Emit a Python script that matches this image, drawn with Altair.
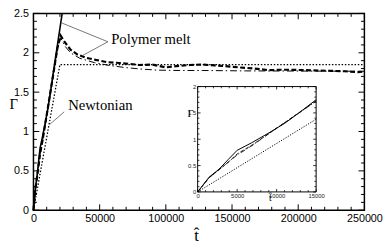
import altair as alt
import pandas as pd

# ---------------- data ----------------
solid_t = [0, 1450, 2700, 3900, 5000, 6800, 8900, 11000, 13000, 15000, 21700]
solid_g = [0, 0.28, 0.43, 0.62, 0.79, 0.93, 1.11, 1.30, 1.52, 1.75, 2.50]

dashed_t = [0, 1450, 2700, 4000, 5000, 7000, 10000, 15000, 18000, 20500, 23000, 28000,
            33000, 39000, 47000, 56000, 65000, 72000, 80000, 90000, 100000, 108000,
            118000, 128000, 137000, 145000, 155000, 167000, 177000, 190000, 204000,
            215000, 225000, 235000, 245000, 250000]
dashed_g = [0, 0.27, 0.42, 0.58, 0.72, 0.90, 1.21, 1.73, 2.05, 2.22, 2.15, 2.04,
            1.98, 1.94, 1.91, 1.88, 1.87, 1.86, 1.845, 1.85, 1.815, 1.83,
            1.845, 1.85, 1.84, 1.83, 1.815, 1.80, 1.78, 1.785, 1.78,
            1.775, 1.77, 1.765, 1.755, 1.76]

dashdot_t = [0, 1450, 2700, 4000, 5000, 7000, 10000, 15000, 18000, 20500, 24000, 28000,
             35000, 46000, 57000, 68000, 80000, 93000, 110000, 128000, 160000, 200000, 250000]
dashdot_g = [0, 0.27, 0.42, 0.58, 0.70, 0.89, 1.21, 1.72, 2.03, 2.19, 2.08, 2.00,
             1.93, 1.875, 1.84, 1.815, 1.795, 1.78, 1.775, 1.775, 1.77, 1.768, 1.765]

newton_t = [0, 20000, 250000]
newton_g = [0, 1.85, 1.85]

inset_newton_t = [0, 15000]
inset_newton_g = [0, 1.38]

x_major = [0, 50000, 100000, 150000, 200000, 250000]
x_minor = [v for v in range(0, 250001, 10000) if v % 50000]
y_major = [0, 0.5, 1, 1.5, 2, 2.5]
y_minor = [round(v * 0.1, 1) for v in range(0, 26) if v % 5]

ix_major = [0, 5000, 10000, 15000]
ix_minor = [v for v in range(0, 15001, 1000) if v % 5000]
iy_major = [0, 0.5, 1, 1.5, 2]
iy_minor = [round(v * 0.1, 1) for v in range(0, 21) if v % 5]

# annotations (data coordinates)
ann_text = ["Polymer melt", "Newtonian"]
ann_t = [58700, 26200]
ann_g = [2.17, 1.34]
ptr_t0 = [56200, 56200, 23200]
ptr_g0 = [2.14, 2.14, 1.25]
ptr_t1 = [21200, 36500, 12300]
ptr_g1 = [2.38, 1.96, 1.09]

# inset axis titles (inset data coordinates)
ititle_text = ["Γ", "t̂"]
ititle_t = [-900, 9200]
ititle_g = [1.47, -0.12]
ititle_size = [11, 10]

# ---------------- layout ----------------
W, H = 338, 201
IX0, IX1, IY0, IY1 = 167.7, 288.7, 74.7, 182.3

SERIF = "Liberation Serif"
SANS = "Liberation Sans"


def df(t, g):
    return pd.DataFrame({"t": t, "g": g})


xs = alt.Scale(domain=[0, 250000], nice=False, zero=False)
ys = alt.Scale(domain=[0, 2.5], nice=False, zero=False)
xax = alt.Axis(values=x_major, format="d", labelFont=SANS, labelFontSize=11, labelColor="black",
               ticks=False, domain=False, grid=False, labelPadding=3, labelFlush=False,
               labelOverlap=False, title="t̂", titleFont=SERIF, titleFontSize=17,
               titleFontWeight="normal", titleColor="black", titleX=166, titleY=26,
               titleBaseline="middle", titleAlign="center")
yax = alt.Axis(values=y_major, format="~g", labelFont=SANS, labelFontSize=11, labelColor="black",
               ticks=False, domain=False, grid=False, labelPadding=5, labelFlush=False,
               labelOverlap=False, title="Γ", titleFont=SERIF, titleFontSize=15,
               titleFontWeight="normal", titleColor="black", titleAngle=0, titleX=-25,
               titleY=92, titleAlign="left", titleBaseline="middle")


def X(f):
    return alt.X(f, type="quantitative", scale=xs, axis=xax)


def Y(f):
    return alt.Y(f, type="quantitative", scale=ys, axis=yax)


def line(data, **kw):
    return alt.Chart(data).mark_line(color="black", **kw).encode(x=X("t"), y=Y("g"))


main_layers = [
    line(df(newton_t, newton_g), strokeWidth=1.3, strokeDash=[1.5, 1.8]),
    line(df(dashdot_t, dashdot_g), strokeWidth=1, strokeDash=[7, 3, 1.5, 3]),
    line(df(dashed_t, dashed_g), strokeWidth=2.2, strokeDash=[5, 2.5]),
    line(df(solid_t, solid_g), strokeWidth=1.6),
]


def xticks(vals, ylo, yhi, xx, sw=1):
    return alt.Chart(pd.DataFrame({"v": vals})).mark_rule(color="black", strokeWidth=sw).encode(
        x=xx("v"), y=alt.value(ylo), y2=alt.value(yhi))


def yticks(vals, xlo, xhi, yy, sw=1):
    return alt.Chart(pd.DataFrame({"v": vals})).mark_rule(color="black", strokeWidth=sw).encode(
        y=yy("v"), x=alt.value(xlo), x2=alt.value(xhi))


main_layers += [
    xticks(x_major, H, H - 6, X), xticks(x_minor, H, H - 3.5, X),
    xticks(x_major, 0, 6, X), xticks(x_minor, 0, 3.5, X),
    yticks(y_major, 0, 6, Y), yticks(y_minor, 0, 3.5, Y),
    yticks(y_major, W, W - 6, Y), yticks(y_minor, W, W - 3.5, Y),
]

ptr = pd.DataFrame({"t0": ptr_t0, "g0": ptr_g0, "t1": ptr_t1, "g1": ptr_g1})
main_layers.append(
    alt.Chart(ptr).mark_rule(color="#555555", strokeWidth=0.8).encode(
        x=X("t0"), y=Y("g0"), x2="t1", y2="g1"))
ann = pd.DataFrame({"t": ann_t, "g": ann_g, "label": ann_text})
main_layers.append(
    alt.Chart(ann).mark_text(font=SERIF, fontSize=15, align="left", baseline="middle",
                             color="black").encode(x=X("t"), y=Y("g"), text="label"))

main = alt.layer(*main_layers)

# ---------------- inset ----------------
ixs = alt.Scale(domain=[0, 15000], range=[IX0, IX1], nice=False, zero=False)
iys = alt.Scale(domain=[0, 2], range=[IY1, IY0], nice=False, zero=False)
ixax = alt.Axis(orient="bottom", offset=-(H - IY1), values=ix_major, format="d", labelFont=SANS,
                labelFontSize=6, labelColor="#222222", ticks=False, domain=False, grid=False,
                labelPadding=1, labelFlush=False, labelOverlap=False, title=None)
iyax = alt.Axis(orient="left", offset=-IX0, values=iy_major, format="~g", labelFont=SANS,
                labelFontSize=6, labelColor="#222222", ticks=False, domain=False, grid=False,
                labelPadding=2, labelFlush=False, labelOverlap=False, title=None)


def IX(f):
    return alt.X(f, type="quantitative", scale=ixs, axis=ixax)


def IY(f):
    return alt.Y(f, type="quantitative", scale=iys, axis=iyax)


def iline(t, g, **kw):
    d = df(t, g)
    d = d[d["t"] <= 15000]
    return alt.Chart(d).mark_line(color="black", **kw).encode(x=IX("t"), y=IY("g"))


frame = pd.DataFrame({"x0": [0], "x1": [15000], "y0": [0], "y1": [2]})
ititles = pd.DataFrame({"t": ititle_t, "g": ititle_g, "label": ititle_text, "s": ititle_size})
inset_layers = [
    alt.Chart(frame).mark_rect(fill="white", stroke="black", strokeWidth=1).encode(
        x=IX("x0"), x2="x1", y=IY("y0"), y2="y1"),
    iline(inset_newton_t, inset_newton_g, strokeWidth=1, strokeDash=[1.2, 1.5]),
    iline(dashdot_t, dashdot_g, strokeWidth=0.8, strokeDash=[5, 2, 1, 2]),
    iline(dashed_t, dashed_g, strokeWidth=0.9, strokeDash=[4, 2]),
    iline(solid_t, solid_g, strokeWidth=1),
    xticks(ix_major, IY1, IY1 - 3, IX, 0.8), xticks(ix_minor, IY1, IY1 - 1.8, IX, 0.8),
    xticks(ix_major, IY0, IY0 + 3, IX, 0.8), xticks(ix_minor, IY0, IY0 + 1.8, IX, 0.8),
    yticks(iy_major, IX0, IX0 + 3, IY, 0.8), yticks(iy_minor, IX0, IX0 + 1.8, IY, 0.8),
    yticks(iy_major, IX1, IX1 - 3, IY, 0.8), yticks(iy_minor, IX1, IX1 - 1.8, IY, 0.8),
    alt.Chart(ititles).mark_text(font=SERIF, align="center", baseline="middle",
                                 color="black").encode(
        x=IX("t"), y=IY("g"), text="label",
        size=alt.Size("s:Q", scale=None, legend=None)),
]
inset = alt.layer(*inset_layers)

chart = alt.layer(main, inset).resolve_scale(x="independent", y="independent").properties(
    width=W, height=H,
    autosize=alt.AutoSizeParams(type="none"),
    padding={"left": 26, "top": 3, "right": 19, "bottom": 34},
    background="white",
).configure_view(stroke="black", strokeWidth=1.5)

chart.save("out.html", embed_options={"renderer": "svg", "actions": False})
